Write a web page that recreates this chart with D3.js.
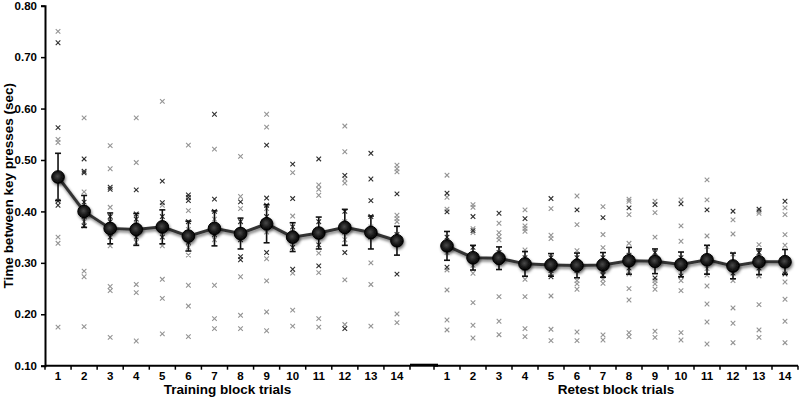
<!DOCTYPE html>
<html><head><meta charset="utf-8">
<script src="https://cdn.jsdelivr.net/npm/d3@7"></script>
<style>body{margin:0;background:#fff}svg{display:block}text{font-family:"Liberation Sans",Arial,sans-serif;font-weight:bold}</style>
</head><body>
<svg id="chart" width="800" height="399"></svg>
<script>
const trials = ["1","2","3","4","5","6","7","8","9","10","11","12","13","14"];
const yTicks = [0.1,0.2,0.3,0.4,0.5,0.6,0.7,0.8];
const trainMean = [0.467,0.400,0.367,0.365,0.370,0.352,0.367,0.357,0.376,0.350,0.358,0.369,0.359,0.343];
const trainErr  = [0.046,0.031,0.030,0.031,0.033,0.029,0.034,0.030,0.037,0.028,0.031,0.035,0.032,0.028];
const retestMean = [0.333,0.310,0.309,0.298,0.296,0.295,0.296,0.304,0.303,0.297,0.306,0.294,0.302,0.302];
const retestErr  = [0.028,0.024,0.022,0.024,0.022,0.024,0.024,0.026,0.024,0.024,0.028,0.025,0.025,0.024];
const trainDark = [
 [0.728,0.563,0.420,0.412],[0.502,0.478,0.475,0.418,0.405,0.39,0.372],[0.447,0.443,0.39,0.38,0.372,0.36,0.35],
 [0.442,0.395,0.385,0.36,0.35],[0.459,0.417,0.39,0.375,0.35],[0.432,0.427,0.421,0.38,0.34],[0.589,0.424,0.40,0.37,0.355],
 [0.4185,0.38,0.345,0.312,0.306],[0.529,0.426,0.412,0.39,0.320],[0.492,0.425,0.37,0.33,0.2875],[0.502,0.38,0.335,0.294],
 [0.470,0.40,0.36,0.32,0.172],[0.513,0.463,0.421,0.39,0.35],[0.434,0.355,0.278]];
const trainLight = [
 [0.750,0.540,0.534,0.350,0.338,0.175],[0.582,0.438,0.38,0.284,0.273,0.176],[0.528,0.483,0.408,0.333,0.254,0.246,0.155],
 [0.582,0.495,0.375,0.34,0.258,0.242,0.148],[0.614,0.412,0.36,0.333,0.268,0.231,0.162],[0.529,0.4015,0.365,0.33,0.315,0.2565,0.216,0.1565],
 [0.521,0.385,0.345,0.2565,0.1915,0.172],[0.507,0.429,0.4055,0.36,0.273,0.198,0.172],[0.589,0.564,0.4055,0.36,0.308,0.265,0.2045,0.168],
 [0.4755,0.391,0.36,0.280,0.208,0.177],[0.4515,0.443,0.4315,0.36,0.319,0.281,0.1915,0.175],[0.566,0.516,0.463,0.455,0.38,0.345,0.267,0.18],
 [0.37,0.300,0.258,0.177],[0.490,0.483,0.477,0.3926,0.386,0.380,0.2006,0.1837]];
const retestDark = [
 [0.4354,0.399,0.35,0.2914],[0.390,0.3626,0.33],[0.3965,0.32,0.30],[0.386,0.31,0.29],[0.425,0.31,0.285,0.273],[0.403,0.31,0.285],
 [0.388,0.31,0.285,0.276],[0.4068,0.315,0.29],[0.4132,0.32,0.2706],[0.4146,0.31,0.2745],[0.403,0.31],[0.4004,0.30,0.28],
 [0.4043,0.32,0.29],[0.4198,0.31,0.2784]];
const retestLight = [
 [0.4704,0.4276,0.4043,0.32,0.2862,0.2473,0.1889,0.1695],[0.4132,0.408,0.3665,0.3587,0.295,0.2797,0.2226,0.1786,0.1539],
 [0.377,0.3587,0.351,0.3446,0.2342,0.1864,0.1603],[0.403,0.3718,0.3665,0.3615,0.325,0.268,0.2342,0.172,0.1565],
 [0.4055,0.3537,0.347,0.2356,0.1708,0.1487],[0.430,0.3744,0.3237,0.2654,0.259,0.2486,0.1655,0.1487],
 [0.4094,0.355,0.3296,0.268,0.260,0.160,0.150],[0.4237,0.4198,0.3938,0.338,0.2784,0.2498,0.2278,0.1642,0.1565],
 [0.4198,0.3977,0.35,0.2654,0.259,0.2486,0.167,0.155],[0.4224,0.3718,0.342,0.2654,0.246,0.1642,0.150],
 [0.4613,0.4224,0.3523,0.3315,0.2887,0.276,0.255,0.22,0.185,0.1422],[0.3835,0.3562,0.3173,0.2654,0.2123,0.1825,0.1447],
 [0.4004,0.3965,0.3354,0.2745,0.2187,0.1695,0.155],[0.4068,0.3938,0.3549,0.3342,0.2628,0.2292,0.1864,0.1447]];

const svg = d3.select("#chart");
const defs = svg.append("defs");
const f = defs.append("filter").attr("id","shadow").attr("x","-50%").attr("y","-50%").attr("width","200%").attr("height","200%");
f.append("feGaussianBlur").attr("in","SourceAlpha").attr("stdDeviation",1.8).attr("result","b");
f.append("feOffset").attr("in","b").attr("dx",1).attr("dy",1.5).attr("result","o");
f.append("feComponentTransfer").attr("in","o").attr("result","o2").append("feFuncA").attr("type","linear").attr("slope",0.55);
const fm = f.append("feMerge"); fm.append("feMergeNode").attr("in","o2"); fm.append("feMergeNode").attr("in","SourceGraphic");
const rg = defs.append("radialGradient").attr("id","mk").attr("cx","45%").attr("cy","45%").attr("r","60%");
rg.append("stop").attr("offset","0%").attr("stop-color","#4a4a4a");
rg.append("stop").attr("offset","55%").attr("stop-color","#1a1a1a");
rg.append("stop").attr("offset","100%").attr("stop-color","#000");

const y = d3.scaleLinear().domain([0.1,0.8]).range([365.7,5.7]);
const xL = d3.scaleBand().domain(trials).range([45,410]);
const xR = d3.scaleBand().domain(trials).range([434,798]);

// Y axis
const ya = svg.append("g").attr("transform","translate(45,0)")
  .call(d3.axisLeft(y).tickValues(yTicks).tickFormat(d3.format(".2f")).tickSize(4).tickPadding(4));
ya.select(".domain").attr("stroke","#000").attr("stroke-width",2);
ya.selectAll(".tick line").attr("stroke","#000").attr("stroke-width",1.5);
ya.selectAll(".tick text").attr("font-size",11.5).attr("fill","#000").attr("font-weight","bold");

// X axes
function xAxis(x){
  const [a,b] = x.range();
  const g = svg.append("g");
  g.append("line").attr("x1",a).attr("x2",b).attr("y1",y(0.1)).attr("y2",y(0.1)).attr("stroke","#000").attr("stroke-width",2);
  const bounds = d3.range(trials.length+1).map(i => a + i*x.step());
  g.selectAll("line.t").data(bounds).join("line").attr("class","t")
    .attr("x1",d=>d).attr("x2",d=>d).attr("y1",y(0.1)).attr("y2",y(0.1)+4).attr("stroke","#000").attr("stroke-width",1.5);
  const ax = svg.append("g").attr("transform",`translate(0,${y(0.1)})`).call(d3.axisBottom(x).tickSize(0).tickPadding(6));
  ax.select(".domain").remove();
  ax.selectAll("text").attr("font-size",11.5).attr("fill","#000").attr("font-weight","bold");
}
xAxis(xL); xAxis(xR);
svg.append("line").attr("x1",xL.range()[1]).attr("x2",xR.range()[0]+4).attr("y1",y(0.1)-0.5).attr("y2",y(0.1)-0.5)
  .attr("stroke","#000").attr("stroke-width",3);

// scatter
function crosses(x, data, color){
  const pts = [];
  data.forEach((arr,i)=>arr.forEach(v=>pts.push({c:trials[i],v})));
  const s = 2.3;
  svg.append("g").selectAll("path").data(pts).join("path")
    .attr("d",d=>{const cx=x(d.c)+x.bandwidth()/2, cy=y(d.v);
      return `M${cx-s},${cy-s}L${cx+s},${cy+s}M${cx-s},${cy+s}L${cx+s},${cy-s}`;})
    .attr("stroke",color).attr("stroke-width",1.1).attr("fill","none");
}
crosses(xL, trainLight, "#949494"); crosses(xR, retestLight, "#949494");
crosses(xL, trainDark, "#2e2e2e"); crosses(xR, retestDark, "#2e2e2e");

function meanSeries(x, means, errs){
  const pts = means.map((m,i)=>({c:trials[i],m,e:errs[i]}));
  const cx = d => x(d.c)+x.bandwidth()/2;
  const g = svg.append("g");
  g.append("path").datum(pts).attr("d",d3.line().x(cx).y(d=>y(d.m)))
    .attr("fill","none").attr("stroke","#333").attr("stroke-width",3).attr("filter","url(#shadow)");
  const eb = g.append("g").selectAll("g").data(pts).join("g");
  eb.append("line").attr("x1",cx).attr("x2",cx).attr("y1",d=>y(d.m+d.e)).attr("y2",d=>y(d.m-d.e)).attr("stroke","#111").attr("stroke-width",1.6);
  eb.append("line").attr("x1",d=>cx(d)-3).attr("x2",d=>cx(d)+3).attr("y1",d=>y(d.m+d.e)).attr("y2",d=>y(d.m+d.e)).attr("stroke","#111").attr("stroke-width",1.6);
  eb.append("line").attr("x1",d=>cx(d)-3).attr("x2",d=>cx(d)+3).attr("y1",d=>y(d.m-d.e)).attr("y2",d=>y(d.m-d.e)).attr("stroke","#111").attr("stroke-width",1.6);
  g.append("g").selectAll("circle").data(pts).join("circle")
    .attr("cx",cx).attr("cy",d=>y(d.m)).attr("r",6.3).attr("fill","url(#mk)").attr("stroke","#000").attr("stroke-width",1)
    .attr("filter","url(#shadow)");
}
meanSeries(xL, trainMean, trainErr);
meanSeries(xR, retestMean, retestErr);

// titles
svg.append("text").attr("x",(xL.range()[0]+xL.range()[1])/2).attr("y",394).attr("text-anchor","middle").attr("font-size",13.5).text("Training block trials");
svg.append("text").attr("x",(xR.range()[0]+xR.range()[1])/2).attr("y",394).attr("text-anchor","middle").attr("font-size",13.5).text("Retest block trials");
svg.append("text").attr("transform",`translate(12.5,${(y(0.1)+y(0.8))/2}) rotate(-90)`).attr("text-anchor","middle").attr("font-size",13.5).text("Time between key presses (sec)");
</script>
</body></html>
